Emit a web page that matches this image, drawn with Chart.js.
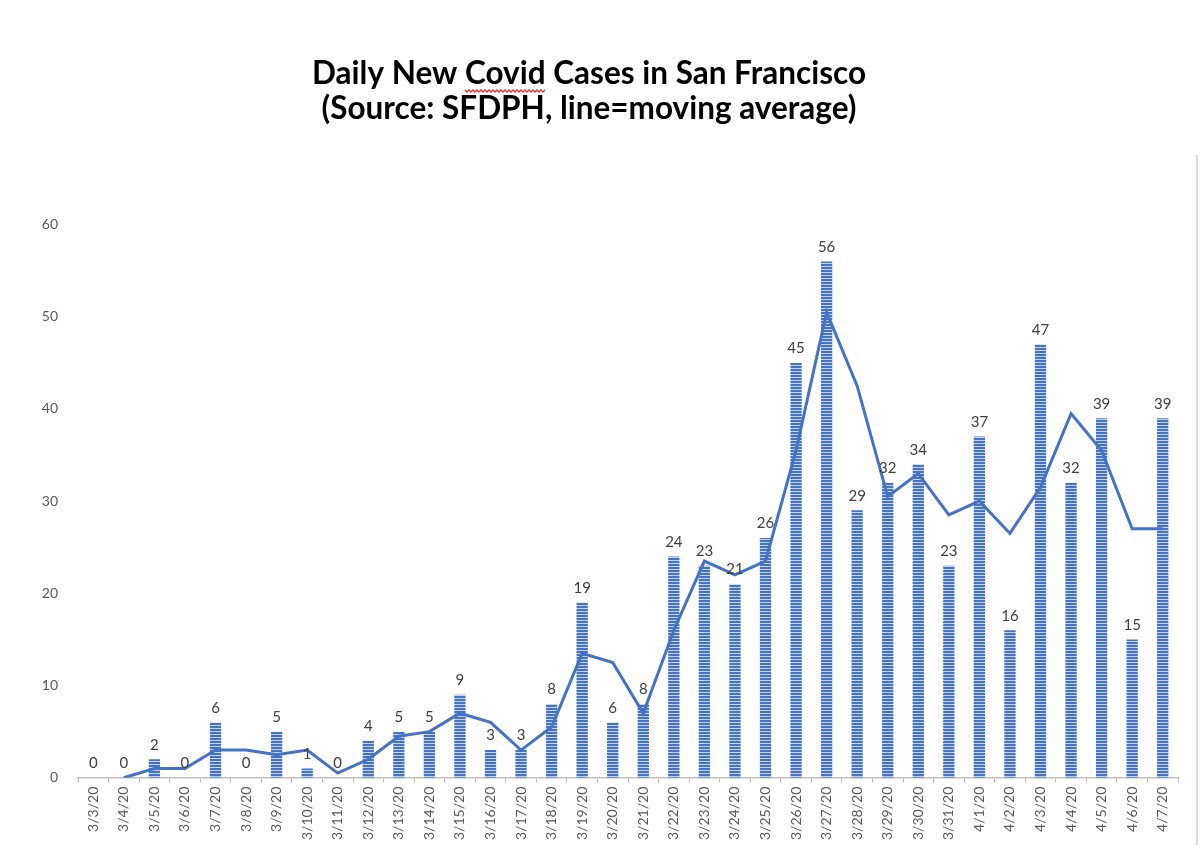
<!DOCTYPE html>
<html lang="en">
<head>
    <meta charset="UTF-8">
    <title>Daily New Covid Cases in San Francisco</title>
    <script src="https://cdn.jsdelivr.net/npm/chart.js"></script>
    <style>
        html, body { margin: 0; padding: 0; background: #fff; }
        .container { width: 1200px; height: 865px; position: relative; }
    </style>
</head>
<body>
    <div class="container">
        <canvas id="casesChart" width="1200" height="865"></canvas>
    </div>

    <script>
        const dates = ['3/3/20', '3/4/20', '3/5/20', '3/6/20', '3/7/20', '3/8/20', '3/9/20', '3/10/20', '3/11/20',
            '3/12/20', '3/13/20', '3/14/20', '3/15/20', '3/16/20', '3/17/20', '3/18/20', '3/19/20', '3/20/20',
            '3/21/20', '3/22/20', '3/23/20', '3/24/20', '3/25/20', '3/26/20', '3/27/20', '3/28/20', '3/29/20',
            '3/30/20', '3/31/20', '4/1/20', '4/2/20', '4/3/20', '4/4/20', '4/5/20', '4/6/20', '4/7/20'];
        const newCases = [0, 0, 2, 0, 6, 0, 5, 1, 0, 4, 5, 5, 9, 3, 3, 8, 19, 6, 8, 24, 23, 21, 26, 45, 56, 29,
            32, 34, 23, 37, 16, 47, 32, 39, 15, 39];
        // (starts at 3/4)
        const movingAvg = [null, 0, 1, 1, 3, 3, 2.5, 3, 0.5, 2, 4.5, 5, 7, 6, 3, 5.5, 13.5, 12.5, 7, 16, 23.5, 22,
            23.5, 35.5, 50.5, 42.5, 30.5, 33, 28.5, 30, 26.5, 31.5, 39.5, 35.5, 27, 27];
        const yTicks = [0, 10, 20, 30, 40, 50, 60];

        const blue = '#4472C4';
        const textGrey = '#595959';
        const titleFont = { family: 'Lato', size: 31.5, weight: 'bold', lineHeight: 1.12 };

        // striped fill for the bars
        function stripePattern() {
            const c = document.createElement('canvas');
            c.width = 4;
            c.height = 3;
            const g = c.getContext('2d');
            g.fillStyle = '#c5d3ee';
            g.fillRect(0, 0, 4, 3);
            g.fillStyle = blue;
            g.fillRect(0, 0, 4, 2);
            return g.createPattern(c, 'repeat');
        }

        // value labels above bars
        const barLabels = {
            id: 'barLabels',
            afterDatasetsDraw(chart) {
                const ctx = chart.ctx;
                const meta = chart.getDatasetMeta(1);
                ctx.save();
                ctx.font = '15px Lato';
                ctx.fillStyle = '#404040';
                ctx.textAlign = 'center';
                ctx.textBaseline = 'bottom';
                meta.data.forEach((bar, i) => {
                    ctx.fillText(newCases[i], bar.x, bar.y - 7);
                });
                ctx.restore();
            }
        };

        // spell-check squiggle under "Covid" and the frame edge on the right
        const extras = {
            id: 'extras',
            afterDraw(chart) {
                const ctx = chart.ctx;
                const t = chart.titleBlock;
                ctx.save();
                ctx.font = 'bold ' + titleFont.size + 'px Lato';
                const line1 = 'Daily New Covid Cases in San Francisco';
                const full = ctx.measureText(line1).width;
                const pre = ctx.measureText('Daily New ').width;
                const w = ctx.measureText('Covid').width;
                const cx = (t.left + t.right) / 2;
                const x0 = cx - full / 2 + pre;
                const y0 = t.top + t.options.padding.top + 34;
                ctx.strokeStyle = '#e0303a';
                ctx.lineWidth = 1.4;
                ctx.beginPath();
                for (let x = 0; x <= w; x += 2) {
                    const y = y0 + ((x / 2) % 2 ? 2 : 0);
                    if (x === 0) ctx.moveTo(x0 + x, y); else ctx.lineTo(x0 + x, y);
                }
                ctx.stroke();

                ctx.strokeStyle = '#d0d0d0';
                ctx.lineWidth = 1.5;
                ctx.beginPath();
                ctx.moveTo(1197, 155);
                ctx.lineTo(1197, 845);
                ctx.stroke();
                ctx.restore();
            }
        };

        const ctx = document.getElementById('casesChart').getContext('2d');
        const chart = new Chart(ctx, {
            data: {
                labels: dates,
                datasets: [
                    {
                        type: 'line',
                        label: 'Moving average',
                        data: movingAvg,
                        borderColor: blue,
                        borderWidth: 3,
                        pointRadius: 0,
                        tension: 0,
                        spanGaps: false,
                        order: 0
                    },
                    {
                        type: 'bar',
                        label: 'New cases',
                        data: newCases,
                        backgroundColor: stripePattern(),
                        barPercentage: 0.37,
                        categoryPercentage: 1,
                        order: 1
                    }
                ]
            },
            options: {
                responsive: false,
                animation: false,
                layout: { padding: { left: 0, right: 22, top: 0, bottom: 21 } },
                plugins: {
                    legend: { display: false },
                    tooltip: { enabled: false },
                    title: {
                        display: true,
                        text: ['Daily New Covid Cases in San Francisco', '(Source: SFDPH, line=moving average)'],
                        color: '#000',
                        font: titleFont,
                        padding: { top: 56, bottom: 98 }
                    }
                },
                scales: {
                    x: {
                        offset: true,
                        grid: {
                            display: true,
                            offset: true,
                            drawOnChartArea: false,
                            drawTicks: true,
                            tickLength: 5,
                            color: '#bfbfbf'
                        },
                        border: { display: true, color: '#bfbfbf', width: 1.5 },
                        ticks: {
                            color: textGrey,
                            font: { family: 'Lato', size: 14 },
                            maxRotation: 90,
                            minRotation: 90,
                            autoSkip: false,
                            padding: 4
                        }
                    },
                    y: {
                        min: 0,
                        max: 60,
                        afterBuildTicks: s => { s.ticks = yTicks.map(v => ({ value: v })); },
                        afterFit: s => { s.width = 78; },
                        grid: { display: false },
                        border: { display: false },
                        ticks: {
                            color: textGrey,
                            font: { family: 'Lato', size: 14 },
                            padding: 12
                        }
                    }
                }
            },
            plugins: [barLabels, extras]
        });
    </script>
</body>
</html>
